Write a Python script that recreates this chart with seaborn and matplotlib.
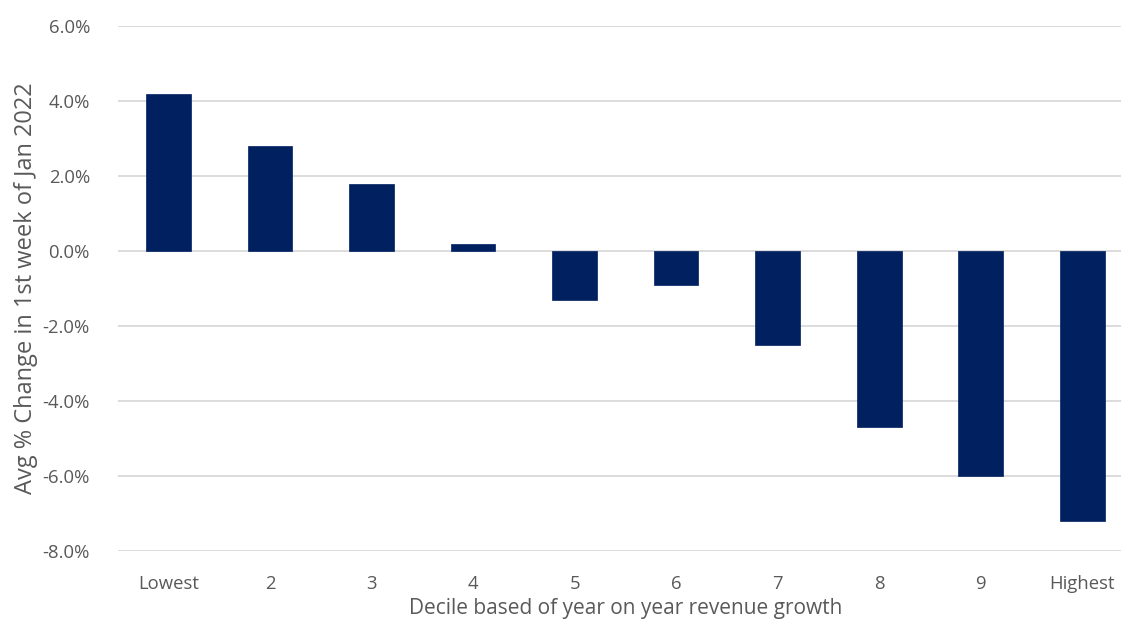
import matplotlib
matplotlib.use("Agg")
import matplotlib.pyplot as plt
import seaborn as sns
import pandas as pd
from matplotlib.ticker import FuncFormatter, MultipleLocator

categories = ["Lowest", "2", "3", "4", "5", "6", "7", "8", "9", "Highest"]
values = [4.2, 2.8, 1.8, 0.2, -1.3, -0.9, -2.5, -4.7, -6.0, -7.2]

df = pd.DataFrame({"decile": categories, "change": values})

sns.set_theme(style="white")
plt.rcParams['font.family'] = ['Open Sans', 'DejaVu Sans']

fig = plt.figure(figsize=(11.21, 6.19), dpi=100)
ax = fig.add_axes([117.75 / 1121, 68 / 619, (1133 - 117.75) / 1121, (592.7 - 68) / 619])

sns.barplot(data=df, x="decile", y="change", color="#002060", width=0.44,
            saturation=1, ax=ax, zorder=3, edgecolor="#002060", linewidth=0.5)

ax.set_ylim(-8, 6)
ax.yaxis.set_major_locator(MultipleLocator(2))
ax.yaxis.set_major_formatter(FuncFormatter(lambda v, p: f"{v:.1f}%"))
ax.grid(axis="y", color="#D9D9D9", linewidth=1.3, zorder=0)
ax.set_axisbelow(True)
for s in ax.spines.values():
    s.set_visible(False)
ax.tick_params(axis="both", length=0, labelsize=13.3, colors="#595959")
ax.tick_params(axis="y", pad=20)
ax.tick_params(axis="x", pad=17)
ax.set_xlabel("Decile based of year on year revenue growth", fontsize=15, color="#595959", labelpad=4)
ax.set_ylabel("Avg % Change in 1st week of Jan 2022", fontsize=17, color="#595959", labelpad=3)

fig.savefig("out.png", dpi=100)
